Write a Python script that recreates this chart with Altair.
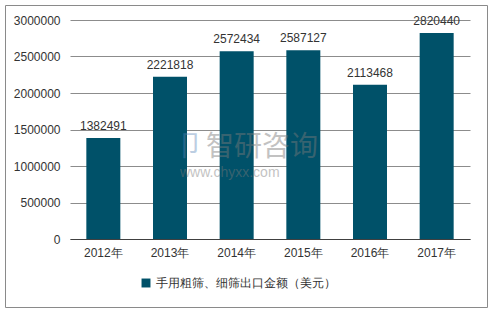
import altair as alt
import pandas as pd

years = ["2012年", "2013年", "2014年", "2015年", "2016年", "2017年"]
values = [1382491, 2221818, 2572434, 2587127, 2113468, 2820440]
y_ticks = [0, 500000, 1000000, 1500000, 2000000, 2500000, 3000000]
series_name = "手用粗筛、细筛出口金额（美元）"

df = pd.DataFrame({"year": years, "value": values, "series": series_name})

FONT = "Liberation Sans"
BAR = "#005169"

x_enc = alt.X("year:N", sort=years, title=None,
              scale=alt.Scale(paddingInner=0.49, paddingOuter=0.245),
              axis=alt.Axis(labelAngle=0, labelFontSize=12, labelColor="#333333",
                            labelFont=FONT, ticks=False, domainColor="#404040",
                            labelPadding=8))
y_enc = alt.Y("value:Q", title=None,
              scale=alt.Scale(domain=[0, 3000000]),
              axis=alt.Axis(values=y_ticks, format="d", labelFontSize=12,
                            labelColor="#333333", labelFont=FONT, ticks=False,
                            domain=False, gridColor="#8c8c8c", labelPadding=10,
                            labelOverlap=False))

base = alt.Chart(df)

bars = base.mark_bar(color=BAR).encode(
    x=x_enc,
    y=y_enc,
    color=alt.Color("series:N", scale=alt.Scale(range=[BAR]), title=None,
                    legend=alt.Legend(orient="none", legendX=70, legendY=257,
                                      symbolType="square", symbolSize=80,
                                      labelFontSize=12, labelFont=FONT,
                                      labelColor="#333333", symbolStrokeWidth=0,
                                      labelLimit=0)),
)

labels = base.mark_text(baseline="bottom", dy=-5, fontSize=12, font=FONT,
                        color="#333333").encode(
    x=x_enc,
    y=y_enc,
    text=alt.Text("value:Q", format="d"),
)

wm1 = alt.Chart(pd.DataFrame({"t": ["智研咨询"]})).mark_text(
    fontSize=28, font="Noto Sans CJK SC", color="#7a7a7a", opacity=0.45,
    align="left", baseline="middle").encode(
    x=alt.value(136), y=alt.value(128), text="t:N")
wm2 = alt.Chart(pd.DataFrame({"t": ["www.chyxx.com"]})).mark_text(
    fontSize=14, font=FONT, color="#7a7a7a", opacity=0.45,
    align="left", baseline="middle").encode(
    x=alt.value(110), y=alt.value(153), text="t:N")
wm_logo = alt.Chart(pd.DataFrame({"t": ["卩"]})).mark_text(
    fontSize=28, font="Noto Sans CJK SC", color="#5a86b8", opacity=0.4,
    align="left", baseline="middle").encode(
    x=alt.value(106), y=alt.value(128), text="t:N")

frame = alt.Chart(pd.DataFrame({"a": [0]})).mark_rect(
    fill=None, stroke="#8a8a8a", strokeWidth=1).encode(
    x=alt.value(-64.5), x2=alt.value(417.5), y=alt.value(-14.5), y2=alt.value(287.5))

chart = alt.layer(bars, labels, wm_logo, wm1, wm2, frame).properties(
    width=400, height=219,
    padding={"left": 70, "top": 20, "right": 22, "bottom": 73},
    autosize=alt.AutoSizeParams(type="none"),
    background="white",
).configure_view(stroke=None)

chart.save("out.html", embed_options={"renderer": "svg", "actions": False})
